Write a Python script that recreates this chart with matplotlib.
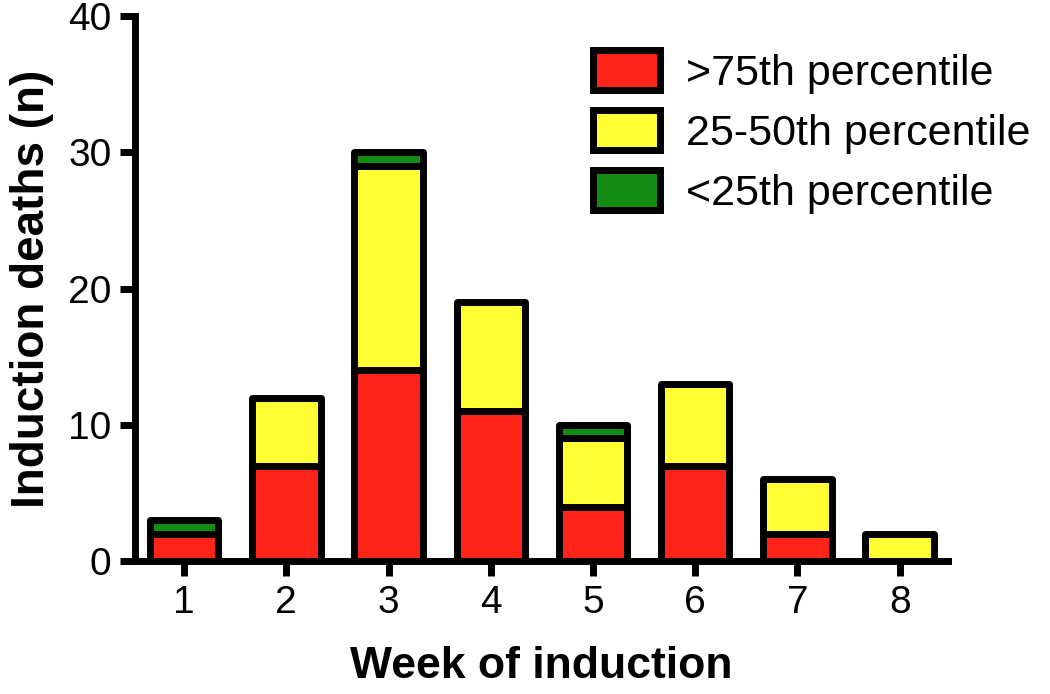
import matplotlib
matplotlib.use("Agg")
import matplotlib.pyplot as plt
import numpy as np

weeks = [1, 2, 3, 4, 5, 6, 7, 8]
above_75 = [2, 7, 14, 11, 4, 7, 2, 0]
p25_50 = [0, 5, 15, 8, 5, 6, 4, 2]
below_25 = [1, 0, 1, 0, 1, 0, 0, 0]

series = [
    (">75th percentile", above_75, "#ff2418"),
    ("25-50th percentile", p25_50, "#ffff33"),
    ("<25th percentile", below_25, "#128c12"),
]

plt.rcParams["font.family"] = ["Liberation Sans", "DejaVu Sans"]

fig = plt.figure(figsize=(10.5, 6.94), dpi=100)
ax = fig.add_axes([0.1286, 0.1916, 0.774, 0.785])

x = np.array(weeks)
bottom = np.zeros(len(weeks))
handles = []
for label, vals, color in series:
    vals = np.array(vals, dtype=float)
    mask = vals > 0
    bars = ax.bar(x[mask], vals[mask], width=0.67, bottom=bottom[mask],
                  color=color, edgecolor="black", linewidth=5, zorder=3)
    for b in bars:
        b.set_joinstyle("round")
    handles.append(bars)
    bottom += vals

ax.set_xlim(0.52, 8.47)
ax.set_ylim(0, 40)
ax.set_yticks([0, 10, 20, 30, 40])
ax.set_xticks(weeks)
ax.spines["top"].set_visible(False)
ax.spines["right"].set_visible(False)
for s in ("left", "bottom"):
    ax.spines[s].set_linewidth(5)
ax.tick_params(axis="both", direction="out", length=11, width=5,
               labelsize=28, pad=6)
ax.set_xlabel("Week of induction", fontsize=32, fontweight="bold", labelpad=18)
ax.set_ylabel("Induction deaths (n)", fontsize=33, fontweight="bold", labelpad=10)

leg = ax.legend(handles, [s[0] for s in series], loc="upper left",
                bbox_to_anchor=(593 / 1050, 1 - 50 / 694),
                bbox_transform=fig.transFigure, frameon=False, fontsize=31,
                handlelength=1.55, handleheight=1.05, handletextpad=0.6,
                labelspacing=0.38, borderpad=0, borderaxespad=0)

fig.savefig("out.png", dpi=100)
